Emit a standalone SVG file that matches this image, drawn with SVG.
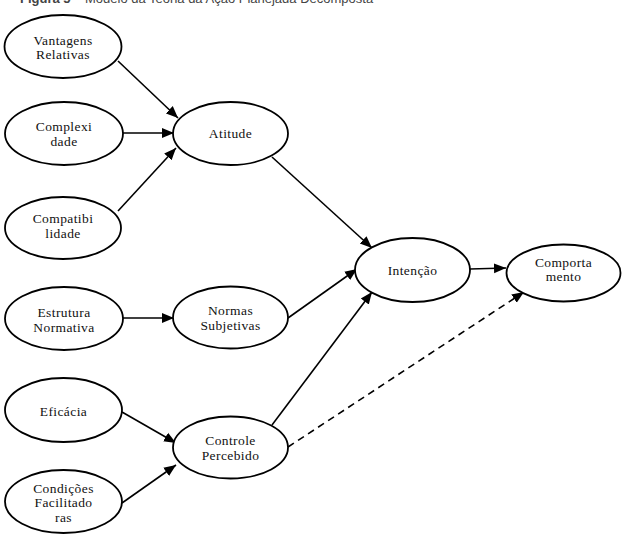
<svg xmlns="http://www.w3.org/2000/svg" width="623" height="535" viewBox="0 0 623 535">
<style>
.n ellipse{fill:#fff;stroke:#000;stroke-width:1.8}
.n text{font-family:"Liberation Serif","Times New Roman",serif;font-size:13.5px;letter-spacing:0.4px;text-anchor:middle;fill:#111}
.c line{stroke:#000;stroke-width:1.6}
.c .d{stroke-dasharray:7,5}
.t{font-family:"Liberation Sans",Arial,sans-serif;font-size:13px;fill:#444}
</style>
<defs>
<marker id="a" markerUnits="userSpaceOnUse" markerWidth="14" markerHeight="12" refX="12" refY="5" orient="auto" viewBox="0 0 14 10">
<path d="M0,0 L12,5 L0,10 z" fill="#000"/>
</marker>
</defs>
<text class="t" x="20" y="3"><tspan font-weight="bold">Figura 5</tspan> – Modelo da Teoria da Ação Planejada Decomposta</text>
<g class="c">
<line x1="118" y1="61" x2="178" y2="118" marker-end="url(#a)"/>
<line x1="123" y1="133" x2="174" y2="133" marker-end="url(#a)"/>
<line x1="118" y1="211" x2="176" y2="148" marker-end="url(#a)"/>
<line x1="123" y1="318" x2="174" y2="318" marker-end="url(#a)"/>
<line x1="122" y1="412" x2="176" y2="443" marker-end="url(#a)"/>
<line x1="122" y1="503" x2="176" y2="465" marker-end="url(#a)"/>
<line x1="272" y1="157" x2="372" y2="248" marker-end="url(#a)"/>
<line x1="288" y1="318" x2="357" y2="269" marker-end="url(#a)"/>
<line x1="272" y1="425" x2="372" y2="292" marker-end="url(#a)"/>
<line x1="470" y1="269" x2="506" y2="268" marker-end="url(#a)"/>
<line class="d" x1="288" y1="447" x2="524" y2="292" marker-end="url(#a)"/>
</g>
<g id="vantagens" class="n"><ellipse cx="63" cy="46.5" rx="58.5" ry="31.5"/><text x="63" y="45">Vantagens</text><text x="63" y="59">Relativas</text></g>
<g id="complexidade" class="n"><ellipse cx="64" cy="133.5" rx="59" ry="31.5"/><text x="64" y="131">Complexi</text><text x="64" y="146">dade</text></g>
<g id="compatibilidade" class="n"><ellipse cx="63" cy="228" rx="58" ry="31"/><text x="63" y="223">Compatibi</text><text x="63" y="238">lidade</text></g>
<g id="estrutura" class="n"><ellipse cx="64" cy="318.5" rx="59" ry="31.5"/><text x="64" y="317">Estrutura</text><text x="64" y="332">Normativa</text></g>
<g id="eficacia" class="n"><ellipse cx="63.5" cy="410" rx="58.5" ry="32"/><text x="63.5" y="416">Eficácia</text></g>
<g id="condicoes" class="n"><ellipse cx="63.5" cy="501.5" rx="58.5" ry="31.5"/><text x="63.5" y="493">Condições</text><text x="63.5" y="507">Facilitado</text><text x="63.5" y="522">ras</text></g>
<g id="atitude" class="n"><ellipse cx="230.5" cy="133.5" rx="57.5" ry="31.5"/><text x="230.5" y="138">Atitude</text></g>
<g id="normas" class="n"><ellipse cx="230.5" cy="317.5" rx="57.5" ry="31"/><text x="230.5" y="315">Normas</text><text x="230.5" y="330">Subjetivas</text></g>
<g id="controle" class="n"><ellipse cx="230.5" cy="447.5" rx="57.5" ry="31"/><text x="230.5" y="445">Controle</text><text x="230.5" y="460">Percebido</text></g>
<g id="intencao" class="n"><ellipse cx="412.5" cy="270" rx="57.5" ry="32"/><text x="412.5" y="275">Intenção</text></g>
<g id="comportamento" class="n"><ellipse cx="563.5" cy="273" rx="57" ry="28.5"/><text x="563.5" y="267">Comporta</text><text x="563.5" y="281">mento</text></g>
</svg>
